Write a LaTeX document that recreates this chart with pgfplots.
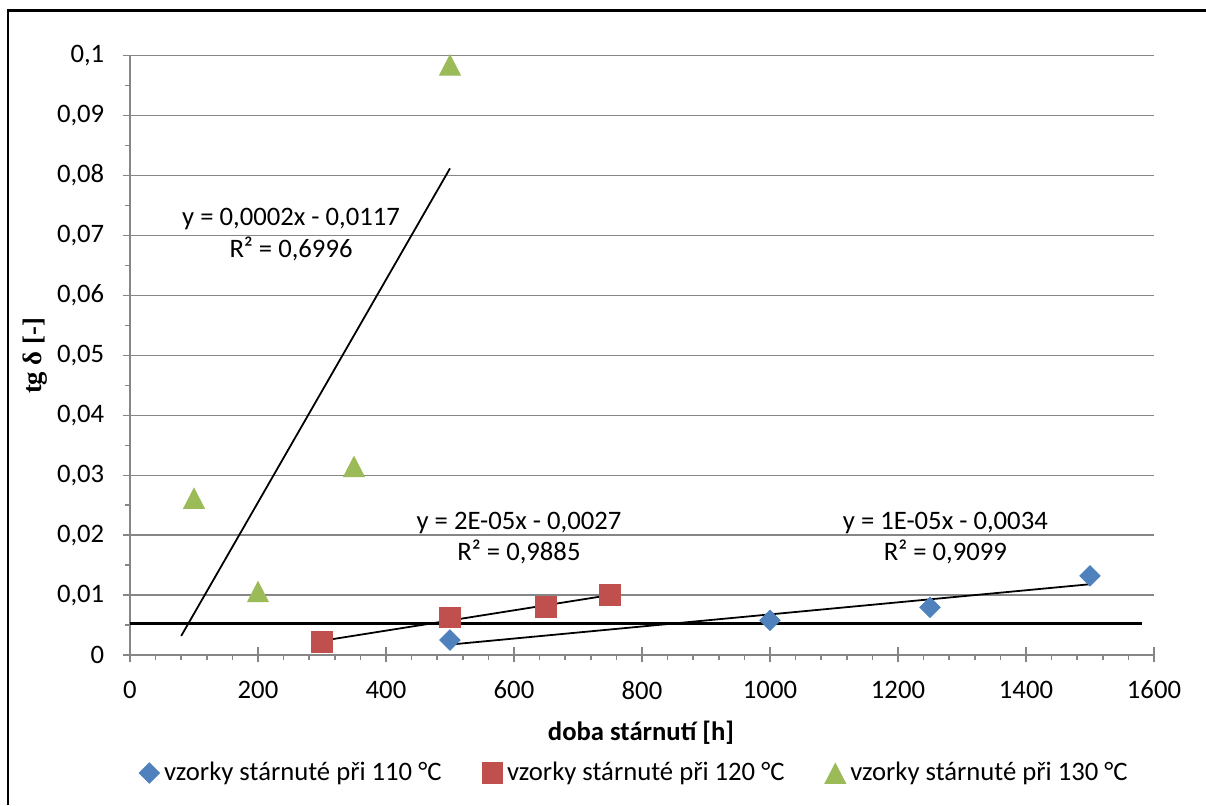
\documentclass[border=0pt]{standalone}
\usepackage{pgfplots}
\pgfplotsset{compat=1.18}
\usepackage{fontspec}
\setmainfont{Carlito}
\newfontfamily\serifb{Liberation Serif}
\definecolor{cblue}{HTML}{4F81BD}
\definecolor{cred}{HTML}{C0504D}
\definecolor{cgreen}{HTML}{9BBB59}
\definecolor{cgrid}{HTML}{868686}
\newcommand\f{\fontsize{11.2}{13.4}\selectfont}
\begin{document}
\begin{tikzpicture}
\useasboundingbox (-54.6pt,-63pt) rectangle (451.92pt,275.1pt);
\draw[line width=1.1pt] (-51.24pt,-63pt) -- (-51.24pt,270.6pt) -- (451.92pt,270.6pt);
\begin{axis}[
  scale only axis, width=430.08pt, height=251.7pt,
  xmin=0, xmax=1600, ymin=0, ymax=0.1,
  xtick={0,200,400,600,800,1000,1200,1400,1600},
  ytick={0,0.01,0.02,0.03,0.04,0.05,0.06,0.07,0.08,0.09,0.1},
  minor x tick num=4, minor y tick num=1,
  axis lines*=left,
  axis line style={cgrid, line width=0.6pt},
  tick style={cgrid, line width=0.6pt},
  tick align=outside, major tick length=3pt, minor tick length=2.2pt,
  extra x ticks={200,400,600,800,1000,1200,1400,1600},
  extra x tick labels={},
  extra x tick style={tick align=inside, major tick length=3.4pt},
  ymajorgrids, grid style={cgrid, line width=0.6pt},
  tick label style={font=\f},
  /pgf/number format/assume math mode=true,
  xticklabel style={/pgf/number format/1000 sep={}, yshift=-4.3pt},
  yticklabel style={/pgf/number format/.cd, use comma, fixed, precision=2, /tikz/.cd, xshift=-4.3pt},
  xlabel={\bfseries doba stárnutí [h]},
  xlabel style={font=\f, at={(axis description cs:0.499,-0.130)}, anchor=center},
  ylabel={\serifb\bfseries tg δ [-]},
  ylabel style={font=\f, at={(axis description cs:-0.0928,0.499)}, anchor=center, rotate=0},
  legend columns=3,
  legend style={draw=none, font=\f, at={(axis description cs:0.494,-0.197)}, anchor=center,
    /tikz/every even column/.append style={column sep=15pt}},
  legend image code/.code={\draw[#1] plot coordinates {(0.15cm,0cm)};},
  legend cell align=left,
]
\addplot[only marks, mark=square*, mark size=3pt, mark options={rotate=45, fill=cblue, draw=cblue}]
  coordinates {(500,0.0025) (1000,0.00579) (1250,0.00796) (1500,0.01321)};
\addlegendentry{vzorky stárnuté při 110 °C}
\addplot[only marks, mark=square*, mark size=4.3pt, mark options={fill=cred, draw=cred}]
  coordinates {(300,0.00217) (500,0.00622) (650,0.0080) (750,0.0100)};
\addlegendentry{vzorky stárnuté při 120 °C}
\addplot[only marks, mark=triangle*, mark size=5pt, mark options={fill=cgreen, draw=cgreen, yscale=1.12, yshift=-1.4pt}]
  coordinates {(100,0.0262) (200,0.01063) (350,0.0315) (500,0.09851)};
\addlegendentry{vzorky stárnuté při 130 °C}
\addplot[black, line width=0.75pt, forget plot] coordinates {(80,0.00318) (500,0.0812)};
\addplot[black, line width=0.75pt, forget plot] coordinates {(300,0.00237) (750,0.0100)};
\addplot[black, line width=0.75pt, forget plot] coordinates {(500,0.00174) (1500,0.01181)};
\addplot[black, line width=1.5pt, forget plot] coordinates {(0,0.00529) (1582,0.00529)};
\node[font=\f, align=center] at (axis cs:251.6,0.0701) {y = 0,0002x - 0,0117\\R² = 0,6996};
\node[font=\f, align=center] at (axis cs:607.8,0.01952) {y = 2E-05x - 0,0027\\R² = 0,9885};
\node[font=\f, align=center] at (axis cs:1274,0.01952) {y = 1E-05x - 0,0034\\R² = 0,9099};
\end{axis}
\end{tikzpicture}
\end{document}
